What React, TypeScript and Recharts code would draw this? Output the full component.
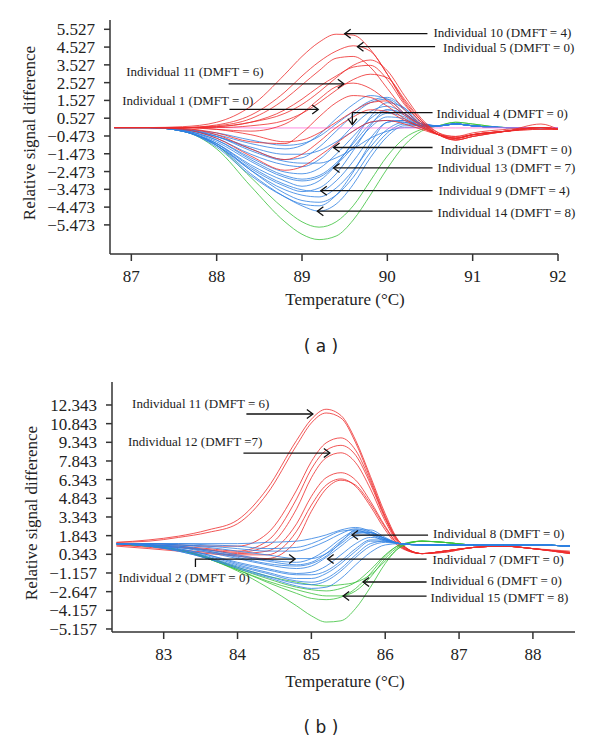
import React from "react";
import { LineChart, Line, XAxis, YAxis, ReferenceLine } from "recharts";

const SERIF = "Liberation Serif, DejaVu Serif, serif";
const RED = "#ee2b2b";
const BLUE = "#2f80e2";
const GREEN = "#3ac23a";
const PINK = "#ff70d8";
const AXIS = "#333";

// ---------- panel (a) ----------
const tempA = [86.8, 87.2, 87.6, 88.0, 88.4, 88.8, 89.0, 89.2, 89.4, 89.6, 89.8, 90.0, 90.2, 90.4, 90.6, 90.8, 91.0, 91.4, 91.8, 92.0];
const xTicksA = [87, 88, 89, 90, 91, 92];
const yTicksA = [5.527, 4.527, 3.527, 2.527, 1.527, 0.527, -0.473, -1.473, -2.473, -3.473, -4.473, -5.473];

const redA = [
  [0, 0, 0.05, 0.3, 1.2, 3.0, 4.0, 4.8, 5.25, 5.2, 4.4, 3.0, 1.5, 0.4, -0.3, -0.5, -0.4, -0.2, -0.1, -0.1],
  [0, 0, 0, 0.15, 0.7, 2.0, 2.9, 3.7, 4.3, 4.6, 4.3, 3.0, 1.4, 0.3, -0.4, -0.6, -0.4, -0.2, 0, -0.1],
  [0, 0, 0, 0.1, 0.5, 1.6, 2.4, 3.2, 3.9, 4.0, 3.4, 2.2, 1.0, 0.2, -0.4, -0.6, -0.4, -0.2, -0.1, -0.1],
  [0, 0, 0, 0.05, 0.3, 1.0, 1.6, 2.3, 2.9, 3.4, 3.5, 2.7, 1.3, 0.3, -0.4, -0.7, -0.5, -0.2, 0.2, -0.1],
  [0, 0, 0, 0, 0.1, 0.4, 0.8, 1.4, 2.1, 2.7, 3.0, 2.8, 1.6, 0.4, -0.4, -0.7, -0.5, -0.2, 0, -0.1],
  [0, 0, 0, -0.1, -0.2, 0.2, 0.8, 1.6, 2.3, 2.5, 2.2, 1.5, 0.7, 0.1, -0.4, -0.6, -0.4, -0.2, 0, -0.1],
  [0, 0, -0.05, -0.3, -0.8, -0.9, -0.3, 0.6, 1.4, 1.8, 1.7, 1.2, 0.5, 0.0, -0.4, -0.6, -0.4, -0.2, 0, -0.1],
  [0, 0, -0.05, -0.4, -1.2, -1.8, -1.5, -0.8, 0.0, 0.6, 1.0, 0.9, 0.4, 0.0, -0.4, -0.6, -0.4, -0.2, 0, -0.1],
  [0, 0, -0.1, -0.6, -1.6, -2.4, -2.2, -1.6, -0.9, -0.2, 0.3, 0.4, 0.2, -0.1, -0.4, -0.5, -0.3, -0.1, 0, -0.1],
  [0, 0, 0, -0.1, -0.4, -0.8, -0.7, -0.3, 0.3, 0.9, 1.4, 1.5, 0.8, 0.1, -0.4, -0.7, -0.5, -0.2, 0, -0.1],
  [0, 0, 0, 0.05, 0.3, 0.8, 1.3, 2.0, 2.8, 3.5, 3.8, 3.2, 1.8, 0.5, -0.3, -0.6, -0.4, -0.2, 0, -0.1],
];
const blueA = [
  [0, 0, -0.1, -0.4, -0.9, -1.2, -1.0, -0.4, 0.5, 1.3, 1.8, 1.6, 0.8, 0.1, 0.1, 0.2, 0.1, 0, 0, 0],
  [0, 0, -0.1, -0.5, -1.2, -1.8, -1.7, -1.1, -0.2, 0.7, 1.4, 1.6, 1.0, 0.2, 0.1, 0.2, 0.1, 0, 0, 0],
  [0, 0, -0.1, -0.6, -1.5, -2.1, -2.2, -1.8, -0.9, 0.1, 0.9, 1.2, 0.8, 0.2, 0.1, 0.2, 0.1, 0, 0, 0],
  [0, 0, -0.15, -0.7, -1.7, -2.5, -2.6, -2.3, -1.5, -0.5, 0.5, 1.0, 0.7, 0.2, 0.1, 0.2, 0.1, 0, 0, 0],
  [0, 0, -0.15, -0.8, -1.9, -2.8, -3.0, -2.8, -2.1, -1.1, 0.0, 0.6, 0.5, 0.1, 0.1, 0.2, 0.1, 0, 0, 0],
  [0, 0, -0.2, -0.9, -2.2, -3.2, -3.5, -3.6, -3.0, -1.9, -0.6, 0.3, 0.4, 0.1, 0.1, 0.2, 0.1, 0, 0, 0],
  [0, 0, -0.2, -1.0, -2.4, -3.5, -3.8, -3.9, -3.4, -2.4, -1.1, -0.1, 0.3, 0.1, 0.1, 0.2, 0.1, 0, 0, 0],
  [0, 0, -0.2, -1.0, -2.6, -3.9, -4.4, -4.7, -4.3, -3.2, -1.7, -0.5, 0.1, 0.1, 0.1, 0.2, 0.1, 0, 0, 0],
  [0, 0, -0.15, -0.7, -1.8, -2.7, -2.9, -2.7, -2.0, -0.9, 0.2, 0.8, 0.6, 0.1, 0.1, 0.2, 0.1, 0, 0, 0],
  [0, 0, -0.1, -0.5, -1.1, -1.5, -1.5, -1.3, -0.8, -0.2, 0.3, 0.4, 0.3, 0.1, 0.1, 0.2, 0.1, 0, 0, 0],
  [0, 0, -0.2, -0.9, -2.4, -3.7, -4.1, -4.2, -3.8, -2.8, -1.4, -0.3, 0.2, 0.1, 0.1, 0.2, 0.1, 0, 0, 0],
  [0, 0, -0.2, -0.9, -2.1, -3.0, -3.3, -3.0, -2.1, -0.8, 0.6, 1.4, 1.1, 0.3, 0.1, 0.2, 0.1, 0, 0, 0],
  [0, 0, -0.1, -0.5, -1.3, -1.9, -2.0, -2.0, -1.7, -1.2, -0.6, -0.2, 0.0, 0.0, 0.1, 0.2, 0.1, 0, 0, 0],
  [0, 0, -0.2, -1.1, -2.7, -3.9, -4.3, -4.4, -3.8, -2.5, -0.9, 0.3, 0.4, 0.1, 0.1, 0.2, 0.1, 0, 0, 0],
  [0, 0, -0.1, -0.3, -0.7, -1.0, -0.9, -0.5, 0.2, 0.9, 1.5, 1.7, 1.1, 0.2, 0.1, 0.2, 0.1, 0, 0, 0],
  [0, 0, -0.2, -1.0, -2.3, -3.3, -3.6, -3.4, -2.6, -1.3, 0.1, 1.0, 0.8, 0.2, 0.1, 0.2, 0.1, 0, 0, 0],
];
const greenA = [
  [0, 0, -0.2, -1.2, -3.3, -5.3, -6.0, -6.3, -6.1, -5.2, -3.8, -2.3, -1.0, -0.2, 0.1, 0.3, 0.2, 0, 0, 0],
  [0, 0, -0.2, -1.0, -2.8, -4.6, -5.3, -5.6, -5.3, -4.4, -3.0, -1.6, -0.6, -0.1, 0.1, 0.3, 0.2, 0, 0, 0],
];
const pinkA = [
  [0, 0, 0, 0, -0.02, -0.02, -0.02, -0.02, -0.02, -0.02, -0.02, -0.02, -0.02, -0.02, -0.02, -0.02, -0.02, -0.02, 0, 0],
];

// ---------- panel (b) ----------
const tempB = [82.36, 82.8, 83.2, 83.6, 84.0, 84.4, 84.8, 85.0, 85.2, 85.4, 85.6, 85.8, 86.0, 86.2, 86.5, 86.8, 87.2, 87.6, 88.0, 88.5];
const xTicksB = [83, 84, 85, 86, 87, 88];
const yTicksB = [12.343, 10.843, 9.343, 7.843, 6.343, 4.843, 3.343, 1.843, 0.343, -1.157, -2.657, -4.157, -5.657];
const yLabelsB = ["12.343", "10.843", "9.343", "7.843", "6.343", "4.843", "3.343", "1.843", "0.343", "-1.157", "-2.647", "-4.157", "-5.157"];

const redB = [
  [1.3, 1.5, 1.8, 2.3, 3.1, 5.6, 9.5, 11.2, 12.0, 11.5, 9.5, 6.6, 3.6, 1.3, 0.4, 0.5, 0.9, 1.0, 0.8, 0.5],
  [1.3, 1.4, 1.7, 2.1, 2.8, 5.2, 9.1, 10.9, 11.7, 11.3, 9.3, 6.4, 3.4, 1.3, 0.4, 0.5, 0.9, 1.0, 0.8, 0.6],
  [1.2, 1.2, 1.1, 1.0, 1.0, 2.0, 5.5, 7.8, 9.3, 9.7, 8.7, 6.2, 3.3, 1.2, 0.4, 0.6, 0.9, 1.0, 0.8, 0.5],
  [1.2, 1.1, 1.0, 0.8, 0.6, 1.4, 4.8, 7.2, 8.7, 9.1, 8.3, 6.0, 3.2, 1.2, 0.4, 0.6, 0.9, 1.0, 0.8, 0.4],
  [1.2, 1.1, 0.9, 0.7, 0.5, 1.0, 4.0, 6.5, 8.1, 8.5, 7.7, 5.6, 3.0, 1.1, 0.4, 0.6, 0.9, 1.0, 0.8, 0.5],
  [1.1, 1.0, 0.9, 0.7, 0.4, 0.6, 2.8, 5.0, 6.5, 6.9, 6.3, 4.6, 2.6, 1.0, 0.4, 0.6, 0.9, 1.0, 0.8, 0.4],
  [1.0, 0.8, 0.6, 0.4, 0.2, 0.0, 1.5, 3.8, 5.6, 6.3, 5.9, 4.4, 2.5, 1.0, 0.4, 0.6, 0.9, 1.0, 0.8, 0.5],
  [1.1, 0.9, 0.7, 0.5, 0.3, 0.3, 2.2, 4.3, 5.9, 6.4, 5.8, 4.2, 2.3, 0.9, 0.4, 0.6, 0.9, 1.0, 0.8, 0.4],
];
const blueB = [
  [1.2, 1.2, 1.2, 1.2, 1.2, 1.3, 1.4, 1.6, 1.9, 2.3, 2.5, 2.2, 1.6, 1.2, 1.1, 1.1, 1.1, 1.1, 1.1, 1.0],
  [1.2, 1.2, 1.1, 1.0, 0.8, 0.6, 0.6, 0.9, 1.4, 2.0, 2.4, 2.1, 1.6, 1.2, 1.1, 1.1, 1.1, 1.1, 1.1, 1.0],
  [1.2, 1.1, 1.0, 0.7, 0.3, -0.1, -0.3, 0.0, 0.7, 1.6, 2.2, 2.1, 1.6, 1.2, 1.1, 1.1, 1.1, 1.1, 1.1, 1.0],
  [1.2, 1.1, 0.9, 0.5, 0.0, -0.5, -0.8, -0.6, 0.1, 1.0, 1.8, 1.9, 1.5, 1.2, 1.1, 1.1, 1.1, 1.1, 1.1, 1.0],
  [1.2, 1.1, 0.8, 0.3, -0.3, -0.8, -1.2, -1.1, -0.6, 0.3, 1.2, 1.7, 1.5, 1.2, 1.1, 1.1, 1.1, 1.1, 1.1, 1.0],
  [1.2, 1.0, 0.7, 0.2, -0.5, -1.1, -1.6, -1.6, -1.2, -0.4, 0.6, 1.4, 1.4, 1.2, 1.1, 1.1, 1.1, 1.1, 1.1, 1.0],
  [1.2, 1.0, 0.6, 0.0, -0.7, -1.4, -2.0, -2.1, -1.8, -1.0, 0.1, 1.0, 1.3, 1.2, 1.1, 1.1, 1.1, 1.1, 1.1, 1.0],
  [1.2, 1.0, 0.6, 0.0, -0.8, -1.5, -2.2, -2.4, -2.3, -1.6, -0.5, 0.5, 1.1, 1.2, 1.1, 1.1, 1.1, 1.1, 1.1, 1.0],
  [1.2, 1.2, 1.1, 0.9, 0.6, 0.3, 0.0, 0.0, 0.4, 1.2, 2.0, 2.1, 1.6, 1.2, 1.1, 1.1, 1.1, 1.1, 1.1, 1.0],
  [1.2, 1.1, 1.0, 0.6, 0.1, -0.4, -0.6, -0.4, 0.2, 1.3, 2.3, 2.3, 1.7, 1.2, 1.1, 1.1, 1.1, 1.1, 1.1, 1.0],
  [1.2, 1.1, 0.8, 0.3, -0.4, -0.9, -1.3, -1.3, -1.0, -0.2, 0.8, 1.5, 1.5, 1.2, 1.1, 1.1, 1.1, 1.1, 1.1, 1.0],
  [1.2, 1.2, 1.2, 1.1, 1.0, 0.8, 0.9, 1.2, 1.7, 2.2, 2.3, 1.9, 1.4, 1.2, 1.1, 1.1, 1.1, 1.1, 1.1, 1.0],
  [1.2, 1.0, 0.7, 0.1, -0.6, -1.2, -1.8, -1.9, -1.6, -0.8, 0.3, 1.2, 1.4, 1.2, 1.1, 1.1, 1.1, 1.1, 1.1, 1.0],
  [1.2, 1.1, 0.9, 0.6, 0.2, -0.2, -0.5, -0.3, 0.4, 1.4, 2.1, 2.0, 1.5, 1.2, 1.1, 1.1, 1.1, 1.1, 1.1, 1.0],
];
const greenB = [
  [1.2, 1.0, 0.7, 0.0, -1.0, -2.3, -3.8, -4.6, -5.1, -5.0, -4.0, -2.3, -0.4, 0.9, 1.4, 1.3, 1.1, 1.1, 1.1, 1.0],
  [1.2, 1.0, 0.7, 0.0, -0.9, -1.9, -2.8, -3.2, -3.3, -3.1, -2.4, -1.2, 0.2, 1.1, 1.4, 1.3, 1.1, 1.1, 1.1, 1.0],
  [1.2, 1.0, 0.7, 0.0, -0.9, -1.8, -2.5, -2.8, -3.0, -3.0, -2.6, -1.5, 0.0, 1.0, 1.4, 1.3, 1.1, 1.1, 1.1, 1.0],
  [1.2, 1.0, 0.7, 0.1, -0.8, -1.6, -2.3, -2.5, -2.6, -2.4, -1.9, -0.9, 0.3, 1.1, 1.4, 1.3, 1.1, 1.1, 1.1, 1.0],
  [1.2, 1.0, 0.7, 0.1, -0.7, -1.4, -1.9, -2.1, -2.2, -2.1, -1.9, -1.3, -0.2, 0.9, 1.4, 1.3, 1.1, 1.1, 1.1, 1.0],
];

// annotations: tip/tail in data units, text offset in px from the tail end
type Note = {
  text: string;
  tip: [number, number];
  tailX: number;
  dx: number;
  dy: number;
  anchor: "start" | "end";
  drop?: number;
  hook?: number;
};

const notesA: Note[] = [
  { text: "Individual 10 (DMFT = 4)", tip: [89.5, 5.28], tailX: 90.47, dx: 6, dy: -1, anchor: "start" },
  { text: "Individual 5 (DMFT = 0)", tip: [89.65, 4.55], tailX: 90.56, dx: 8, dy: 1, anchor: "start" },
  { text: "Individual 11 (DMFT = 6)", tip: [89.49, 2.46], tailX: 88.14, dx: 35, dy: -12, anchor: "end" },
  { text: "Individual 1 (DMFT = 0)", tip: [89.19, 1.02], tailX: 88.15, dx: 24, dy: -9, anchor: "end" },
  { text: "Individual 4 (DMFT = 0)", tip: [89.59, 0.84], tailX: 90.53, dx: 4, dy: 1, anchor: "start", drop: 12 },
  { text: "Individual 3 (DMFT = 0)", tip: [89.37, -1.12], tailX: 90.53, dx: 8, dy: 2, anchor: "start" },
  { text: "Individual 13 (DMFT = 7)", tip: [89.37, -2.27], tailX: 90.53, dx: 5, dy: 0, anchor: "start" },
  { text: "Individual 9 (DMFT = 4)", tip: [89.22, -3.55], tailX: 90.53, dx: 6, dy: 0, anchor: "start" },
  { text: "Individual 14 (DMFT = 8)", tip: [89.18, -4.7], tailX: 90.53, dx: 5, dy: 1, anchor: "start" },
];

const notesB: Note[] = [
  { text: "Individual 11 (DMFT = 6)", tip: [85.02, 11.62], tailX: 84.12, dx: 23, dy: -10, anchor: "end" },
  { text: "Individual 12 (DMFT =7)", tip: [85.25, 8.48], tailX: 84.08, dx: 19, dy: -12, anchor: "end" },
  { text: "Individual 8 (DMFT = 0)", tip: [85.55, 1.89], tailX: 86.58, dx: 5, dy: -2, anchor: "start" },
  { text: "Individual 7 (DMFT = 0)", tip: [85.22, -0.04], tailX: 86.56, dx: 6, dy: 0, anchor: "start" },
  { text: "Individual 6 (DMFT = 0)", tip: [85.7, -1.88], tailX: 86.56, dx: 4, dy: -1, anchor: "start" },
  { text: "Individual 15 (DMFT = 8)", tip: [85.43, -3.01], tailX: 86.56, dx: 4, dy: 1, anchor: "start" },
  { text: "Individual 2 (DMFT = 0)", tip: [84.78, -0.04], tailX: 83.43, dx: -77, dy: 18, anchor: "start", hook: 8 },
];

const buildRows = (temps: number[], groups: { key: string; curves: number[][] }[]) =>
  temps.map((t, i) => {
    const row: Record<string, number> = { t };
    groups.forEach((g) => g.curves.forEach((c, j) => (row[`${g.key}${j}`] = c[i])));
    return row;
  });

const minus = (s: string) => s.replace("-", "\u2212");

const noteShape = (n: Note) => (props: any) => {
  const { x1, y1, x2, y2 } = props;
  // x1,y1 = tip (or corner when drop is set), x2,y2 = tail
  const tipX = x1;
  const tipY = n.drop ? y1 + n.drop : y1;
  const ux = n.drop ? 0 : Math.sign(x1 - x2);
  const uy = n.drop ? 1 : 0;
  const L = 6;
  const W = 4.5;
  const head = `${tipX - ux * L - uy * W},${tipY - uy * L - ux * W} ${tipX},${tipY} ${tipX - ux * L + uy * W},${tipY - uy * L + ux * W}`;
  const path = n.drop
    ? `M${x2},${y2} L${x1},${y1} L${tipX},${tipY}`
    : n.hook
    ? `M${x2},${y2 + n.hook} L${x2},${y2} L${x1},${y1}`
    : `M${x2},${y2} L${x1},${y1}`;
  return (
    <g>
      <path d={path} stroke="#111" strokeWidth={1.3} fill="none" />
      <polyline points={head} stroke="#111" strokeWidth={1.3} fill="none" />
      <text
        x={x2 + n.dx}
        y={y2 + n.dy}
        textAnchor={n.anchor}
        dominantBaseline="central"
        style={{ fontFamily: SERIF, fontSize: 13 }}
        fill="#222"
      >
        {n.text}
      </text>
    </g>
  );
};

type PanelProps = {
  top: number;
  height: number;
  margin: { top: number; right: number; bottom: number; left: number };
  yWidth: number;
  temps: number[];
  groups: { key: string; curves: number[][]; color: string }[];
  xDomain: [number, number];
  yDomain: [number, number];
  xTicks: number[];
  yTicks: number[];
  yFormat: (v: number, i: number) => string;
  notes: Note[];
};

const Panel = ({ top, height, margin, yWidth, temps, groups, xDomain, yDomain, xTicks, yTicks, yFormat, notes }: PanelProps) => {
  const rows = buildRows(temps, groups);
  const tickStyle = { fontSize: 17, fill: "#222", style: { fontFamily: SERIF } };
  return (
    <div style={{ position: "absolute", left: 0, top, fontFamily: SERIF }}>
      <LineChart width={600} height={height} data={rows} margin={margin} style={{ fontFamily: SERIF }}>
        <XAxis
          type="number"
          dataKey="t"
          domain={xDomain}
          ticks={xTicks}
          allowDataOverflow
          height={40}
          tickSize={7}
          tickMargin={9}
          axisLine={{ stroke: AXIS, strokeWidth: 1.5 }}
          tickLine={{ stroke: AXIS, strokeWidth: 1.5 }}
          tick={tickStyle}
        />
        <YAxis
          type="number"
          domain={yDomain}
          ticks={yTicks}
          allowDataOverflow
          width={yWidth}
          tickSize={6}
          tickMargin={9}
          interval={0}
          tickFormatter={(v: number, i: number) => minus(yFormat(v, i))}
          axisLine={{ stroke: AXIS, strokeWidth: 1.5 }}
          tickLine={{ stroke: AXIS, strokeWidth: 1.5 }}
          tick={tickStyle}
        />
        {groups.map((g) =>
          g.curves.map((_, j) => (
            <Line
              key={`${g.key}${j}`}
              dataKey={`${g.key}${j}`}
              type="monotone"
              stroke={g.color}
              strokeWidth={0.8}
              dot={false}
              activeDot={false}
              isAnimationActive={false}
            />
          ))
        )}
        {notes.map((n) => (
          <ReferenceLine
            key={n.text}
            segment={[
              { x: n.tip[0], y: n.tip[1] },
              { x: n.tailX, y: n.tip[1] },
            ]}
            shape={noteShape(n)}
          />
        ))}
      </LineChart>
    </div>
  );
};

const Caption = ({ x, y, children, style }: { x: number; y: number; children: React.ReactNode; style?: React.CSSProperties }) => (
  <div
    style={{
      position: "absolute",
      left: x,
      top: y,
      transform: "translate(-50%, -50%)",
      whiteSpace: "nowrap",
      fontFamily: SERIF,
      fontSize: 17,
      color: "#222",
      ...style,
    }}
  >
    {children}
  </div>
);

const YTitle = ({ x, y }: { x: number; y: number }) => (
  <Caption x={x} y={y} style={{ transform: "translate(-50%, -50%) rotate(-90deg)" }}>
    Relative signal difference
  </Caption>
);

export default function App() {
  return (
    <div style={{ position: "absolute", left: 0, top: 0, width: 600, height: 742, background: "#fff" }}>
      <Panel
        top={0}
        height={320}
        margin={{ top: 20, right: 42, bottom: 26, left: 0 }}
        yWidth={110}
        temps={tempA}
        groups={[
          { key: "g", curves: greenA, color: GREEN },
          { key: "b", curves: blueA, color: BLUE },
          { key: "p", curves: pinkA, color: PINK },
          { key: "r", curves: redA, color: RED },
        ]}
        xDomain={[86.75, 92]}
        yDomain={[-7.11, 6.05]}
        xTicks={xTicksA}
        yTicks={yTicksA}
        yFormat={(v) => v.toFixed(3)}
        notes={notesA}
      />
      <YTitle x={30} y={133} />
      <Caption x={345} y={300}>Temperature (°C)</Caption>
      <Caption x={321} y={346} style={{ fontFamily: "DejaVu Sans, Verdana, sans-serif", fontSize: 17 }}>
        ( a )
      </Caption>

      <Panel
        top={340}
        height={340}
        margin={{ top: 42, right: 25, bottom: 8, left: 0 }}
        yWidth={112}
        temps={tempB}
        groups={[
          { key: "r", curves: redB, color: RED },
          { key: "g", curves: greenB, color: GREEN },
          { key: "b", curves: blueB, color: BLUE },
        ]}
        xDomain={[82.3, 88.57]}
        yDomain={[-5.9, 14.19]}
        xTicks={xTicksB}
        yTicks={yTicksB}
        yFormat={(_, i) => yLabelsB[i]}
        notes={notesB}
      />
      <YTitle x={32} y={513} />
      <Caption x={345} y={682}>Temperature (°C)</Caption>
      <Caption x={321} y={727} style={{ fontFamily: "DejaVu Sans, Verdana, sans-serif", fontSize: 17 }}>
        ( b )
      </Caption>
    </div>
  );
}
